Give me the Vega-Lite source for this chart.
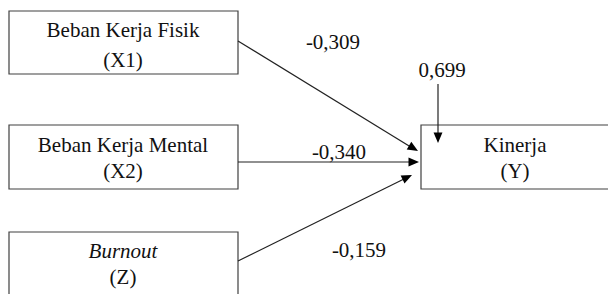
{
  "$schema": "https://vega.github.io/schema/vega-lite/v6.json",
  "width": 608,
  "height": 294,
  "autosize": "none",
  "padding": 0,
  "background": "white",
  "config": {"view": {"stroke": null}},
  "layer": [
    {
      "data": {"values": [
        {"id": "X1", "x1": 9, "x2": 238, "y1": 11, "y2": 74},
        {"id": "X2", "x1": 9, "x2": 238, "y1": 125, "y2": 189},
        {"id": "Z", "x1": 9, "x2": 238, "y1": 232, "y2": 310},
        {"id": "Y", "x1": 421, "x2": 630, "y1": 125, "y2": 189}
      ]},
      "mark": {"type": "rect", "fill": "white", "stroke": "#404040", "strokeWidth": 1.2, "clip": true},
      "encoding": {
        "x": {"field": "x1", "type": "quantitative", "scale": {"domain": [0, 608]}, "axis": null},
        "x2": {"field": "x2"},
        "y": {"field": "y1", "type": "quantitative", "scale": {"domain": [294, 0]}, "axis": null},
        "y2": {"field": "y2"}
      }
    },
    {
      "data": {"values": [
        {"path": "X1-Y", "xa": 238, "ya": 41, "xb": 414, "yb": 149},
        {"path": "X2-Y", "xa": 238, "ya": 162, "xb": 414, "yb": 162},
        {"path": "Z-Y", "xa": 238, "ya": 261, "xb": 408, "yb": 177},
        {"path": "e-Y", "xa": 438, "ya": 84, "xb": 438, "yb": 138}
      ]},
      "mark": {"type": "rule", "color": "#222", "strokeWidth": 1.2},
      "encoding": {
        "x": {"field": "xa", "type": "quantitative", "scale": {"domain": [0, 608]}, "axis": null},
        "x2": {"field": "xb"},
        "y": {"field": "ya", "type": "quantitative", "scale": {"domain": [294, 0]}, "axis": null},
        "y2": {"field": "yb"}
      }
    },
    {
      "data": {"values": [
        {"path": "X1-Y", "x": 418, "y": 151, "ang": 31},
        {"path": "X2-Y", "x": 419, "y": 162, "ang": 0},
        {"path": "Z-Y", "x": 412, "y": 175, "ang": 334},
        {"path": "e-Y", "x": 438, "y": 143, "ang": 90}
      ]},
      "mark": {"type": "point", "shape": "M0,0 L-2,-0.85 L-2,0.85 Z", "filled": true, "color": "#000", "opacity": 1, "size": 110},
      "encoding": {
        "x": {"field": "x", "type": "quantitative", "scale": {"domain": [0, 608]}, "axis": null},
        "y": {"field": "y", "type": "quantitative", "scale": {"domain": [294, 0]}, "axis": null},
        "angle": {"field": "ang", "type": "quantitative", "scale": null}
      }
    },
    {
      "data": {"values": [
        {"label": "Beban Kerja Fisik", "x": 123, "y": 37},
        {"label": "(X1)", "x": 123, "y": 67},
        {"label": "Beban Kerja Mental", "x": 123, "y": 152},
        {"label": "(X2)", "x": 123, "y": 178},
        {"label": "(Z)", "x": 123, "y": 284},
        {"label": "Kinerja", "x": 515, "y": 152},
        {"label": "(Y)", "x": 515, "y": 178},
        {"label": "-0,309", "x": 333, "y": 49},
        {"label": "0,699", "x": 442, "y": 77},
        {"label": "-0,340", "x": 339, "y": 159},
        {"label": "-0,159", "x": 359, "y": 257}
      ]},
      "mark": {"type": "text", "font": "Liberation Serif", "fontSize": 21, "baseline": "alphabetic", "align": "center", "color": "#111"},
      "encoding": {
        "x": {"field": "x", "type": "quantitative", "scale": {"domain": [0, 608]}, "axis": null},
        "y": {"field": "y", "type": "quantitative", "scale": {"domain": [294, 0]}, "axis": null},
        "text": {"field": "label"}
      }
    },
    {
      "data": {"values": [
        {"label": "Burnout", "x": 123, "y": 258}
      ]},
      "mark": {"type": "text", "font": "Liberation Serif", "fontStyle": "italic", "fontSize": 21, "baseline": "alphabetic", "align": "center", "color": "#111"},
      "encoding": {
        "x": {"field": "x", "type": "quantitative", "scale": {"domain": [0, 608]}, "axis": null},
        "y": {"field": "y", "type": "quantitative", "scale": {"domain": [294, 0]}, "axis": null},
        "text": {"field": "label"}
      }
    }
  ]
}
